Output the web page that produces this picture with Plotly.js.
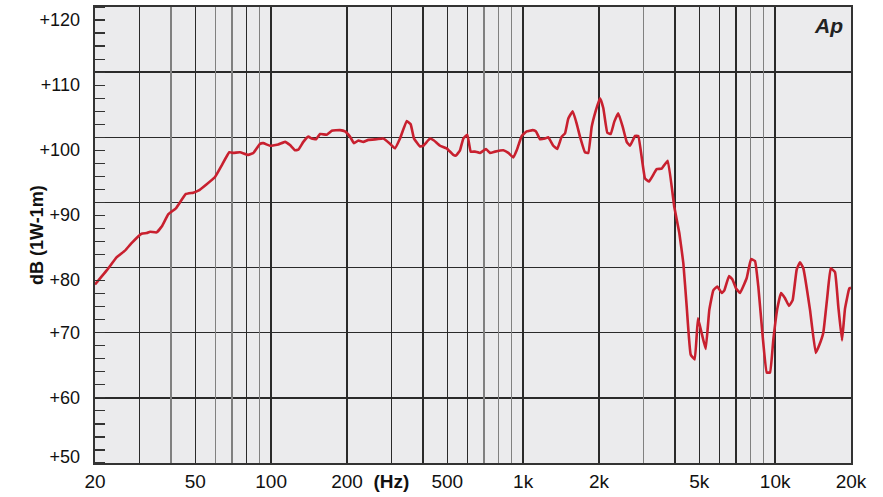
<!DOCTYPE html>
<html>
<head>
<meta charset="utf-8">
<script src="https://cdn.plot.ly/plotly-3.0.1.min.js"></script>
<style>
html,body{margin:0;padding:0;background:#fff;}
#chart{width:883px;height:497px;}
</style>
</head>
<body>
<div id="chart"></div>
<script>
// Frequency response (Hz) and SPL (dB, 1W-1m)
const freqHz = [20,22.3,24.4,26.3,28.0,30.6,32.1,33.1,35.1,36.8,39.1,41.9,45.9,49.1,51.4,55.5,59.9,63.7,68.2,70.8,75.2,81.2,85.0,90.3,93.1,99.0,106.8,113.5,118.8,124.4,128.2,134.2,140.4,144.9,150.7,156.3,166.2,174.0,187.6,196.4,205.5,213.2,221.8,232.2,243.0,262.5,278.6,296.2,310.0,324.6,345.2,357.8,369.0,389.8,401.6,427.0,442.8,467.8,497.2,528.4,541.4,561.6,578.8,600.4,619.4,644.2,674.4,712.4,738.8,773.4,834.4,873.4,914.0,943.0,987.2,1033,1091,1125,1167,1221,1258,1317,1366,1422,1466,1511,1573,1631,1681,1760,1814,1871,1946,2018,2080,2158,2226,2300,2386,2484,2576,2655,2780,2864,3044,3158,3388,3548,3748,3980,4166,4322,4457,4624,4796,4942,5112,5302,5480,5684,5896,6138,6286,6562,6762,6996,7254,7712,8022,8318,8574,8926,9260,9542,9834,10200,10552,10944,11350,11736,12176,12550,12934,13752,14486,14970,15528,16106,16612,17280,17810,18422,18934,19694,20000];
const splDb = [77.4,79.6,81.6,82.6,83.8,85.2,85.3,85.5,85.4,86.3,88.2,89.1,91.3,91.5,91.8,92.8,93.9,95.7,97.7,97.6,97.7,97.3,97.6,99.0,99.1,98.7,98.9,99.3,98.8,98.0,98.1,99.3,100.1,99.8,99.7,100.5,100.4,101.0,101.1,100.9,100.1,99.1,99.5,99.3,99.6,99.7,99.8,99.0,98.3,99.8,102.5,102.0,99.8,98.6,98.7,99.8,99.5,98.7,98.3,97.3,97.2,98.0,99.8,100.4,97.8,97.8,97.6,98.2,97.6,97.8,98.0,97.6,96.9,98.0,100.2,100.9,101.1,100.9,99.7,99.8,100.0,98.7,98.2,100.1,100.6,102.9,104.0,102.1,100.1,97.7,97.6,101.6,104.2,106.0,104.5,100.7,100.5,102.4,103.7,101.6,99.3,98.7,100.2,100.2,93.7,93.2,95.1,95.2,96.4,89.3,85.3,80.7,74.0,66.6,65.9,72.2,69.9,67.5,73.5,76.5,77.1,76.1,76.5,78.7,78.2,76.8,76.1,78.4,81.3,81.0,77.1,69.4,63.9,63.9,68.9,73.7,76.1,75.3,74.1,75.0,79.7,80.8,79.9,73.5,66.9,68.1,70.0,75.5,79.9,79.3,74.0,68.8,73.7,76.8,76.9];

const xTickVals = [20,50,100,200,300,500,1000,2000,5000,10000,20000];
const xTickText = ['20','50','100','200','<b>(Hz)</b>','500','1k','2k','5k','10k','20k'];
const xDarkGrid = [30,80,400,600,4000,5000,6000,7000];
const xGreyGrid = [40,60,70,90,700,800,900,3000,8000,9000];
const yGridVals = [50,60,70,80,90,100,110,120];
const yMidVals = [60,70];
const yMidText = ['+60','+70'];
const yUpperVals = [80,90,100,110,120];
const yUpperText = ['+80','+90','+100','+110','+120'];
const yLowVals = [50];
const yLowText = ['+50'];
const yTitle = 'dB (1W-1m)';
const logoText = 'Ap';

const FONT = 'Liberation Sans Narrow, Arial Narrow, Liberation Sans, Arial, sans-serif';
const logF = v => Math.log10(v);

const trace = {
  x: freqHz, y: splDb, type: 'scatter', mode: 'lines',
  line: {color: '#c8202f', width: 2.6, shape: 'spline', smoothing: 0.3},
  hoverinfo: 'skip'
};
const dummy = (xa, ya) => ({x: [20, 20000], y: [null, null], xaxis: xa, yaxis: ya, mode: 'lines', hoverinfo: 'skip', showlegend: false});

const yLabelAxis = (vals, text, pos, shift) => ({
  range: [50, 120], overlaying: 'y', side: 'left',
  tickmode: 'array', tickvals: vals, ticktext: text,
  ticks: '', ticklabelstandoff: 14, ticklabelposition: pos, ticklabelshift: shift,
  showgrid: false, showline: false, zeroline: false,
  tickfont: {family: FONT, size: 18, color: '#111'}
});

const layout = {
  width: 883, height: 497,
  margin: {l: 95, r: 32, t: 7, b: 34},
  paper_bgcolor: '#ffffff',
  plot_bgcolor: '#ebebed',
  showlegend: false,
  font: {family: FONT, color: '#111', size: 18},
  xaxis: {
    type: 'log', range: [logF(20), logF(20000)],
    tickmode: 'array', tickvals: xTickVals, ticktext: xTickText,
    ticks: '', ticklabelstandoff: 1,
    showgrid: true, gridcolor: '#2a2a2a', gridwidth: 1.4,
    showline: true, linecolor: '#333', linewidth: 1.6, mirror: true,
    zeroline: false,
    tickfont: {family: FONT, size: 19, color: '#111'},
    minor: {tickmode: 'array', tickvals: xDarkGrid, showgrid: true, gridcolor: '#2a2a2a', gridwidth: 1.4, ticks: ''}
  },
  xaxis2: {
    type: 'log', range: [logF(20), logF(20000)], overlaying: 'x',
    tickmode: 'array', tickvals: xGreyGrid, showticklabels: false, ticks: '',
    showgrid: true, gridcolor: '#808080', gridwidth: 1.3, zeroline: false, showline: false
  },
  yaxis: {
    range: [50, 120],
    tickmode: 'array', tickvals: yGridVals, ticktext: yGridVals.map(v => ''),
    ticks: '', showticklabels: false,
    showgrid: true, gridcolor: '#2a2a2a', gridwidth: 1.4,
    showline: true, linecolor: '#333', linewidth: 1.6, mirror: true,
    zeroline: false,
    minor: {dtick: 2, ticks: 'inside', ticklen: 10, tickwidth: 1.2, tickcolor: '#333', showgrid: false}
  },
  yaxis2: yLabelAxis(yMidVals, yMidText, 'outside', 0),
  yaxis3: yLabelAxis(yUpperVals, yUpperText, 'outside bottom', 0),
  yaxis4: yLabelAxis(yLowVals, yLowText, 'outside top', 6),
  annotations: [
    {text: '<b>' + yTitle + '</b>', xref: 'paper', yref: 'paper', x: (37 - 95) / 756, y: 0.5,
     xanchor: 'center', yanchor: 'middle', textangle: -90, showarrow: false,
     font: {family: FONT, size: 18, color: '#111'}},
    {text: '<b><i>' + logoText + '</i></b>', xref: 'paper', yref: 'paper', x: (828 - 95) / 756, y: (463 - 26) / 456,
     xanchor: 'center', yanchor: 'middle', showarrow: false,
     font: {family: 'Liberation Sans, Arial, sans-serif', size: 21, color: '#222'}}
  ]
};

Plotly.newPlot('chart', [dummy('x2', 'y'), dummy('x', 'y2'), dummy('x', 'y3'), dummy('x', 'y4'), trace], layout, {displayModeBar: false, staticPlot: true});
</script>
</body>
</html>
